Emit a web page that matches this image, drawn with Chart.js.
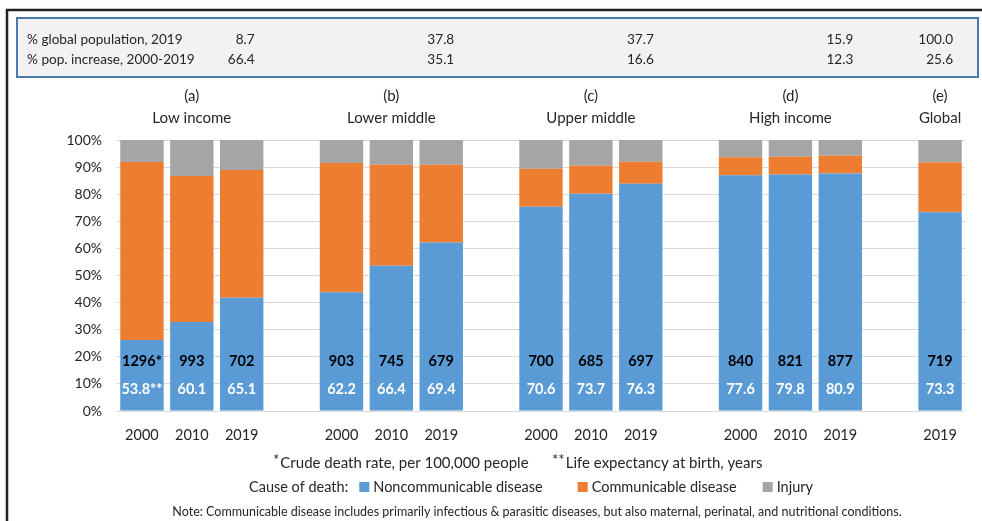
<!DOCTYPE html>
<html>
<head>
<meta charset="utf-8">
<script src="https://cdn.jsdelivr.net/npm/chart.js@4"></script>
<style>
  html, body { margin: 0; padding: 0; background: #fff; }
</style>
</head>
<body>
<canvas id="myChart" width="982" height="521"></canvas>
<script>
// Categorias: 5 grupos con una columna vacia entre ellos
const years = ['2000', '2010', '2019', '', '2000', '2010', '2019', '', '2000', '2010', '2019', '', '2000', '2010', '2019', '', '2019'];
const groupLetters = ['(a)', '(b)', '(c)', '(d)', '(e)'];
const groupNames = ['Low income', 'Lower middle', 'Upper middle', 'High income', 'Global'];
const groupMid = [1, 5, 9, 13, 16];
const groupLast = [2, 6, 10, 14, 16];

// Porcentaje de muertes por causa
const noncommunicable = [26.2, 32.8, 41.8, null, 43.8, 53.6, 62.2, null, 75.4, 80.2, 83.9, null, 87.0, 87.3, 87.6, null, 73.3];
const communicable = [65.7, 53.9, 47.1, null, 47.7, 37.3, 28.7, null, 14.0, 10.3, 8.1, null, 6.6, 6.5, 6.6, null, 18.5];
const injury = [8.1, 13.3, 11.1, null, 8.5, 9.1, 9.1, null, 10.6, 9.5, 8.0, null, 6.4, 6.2, 5.8, null, 8.2];

// Tasa bruta de mortalidad y esperanza de vida
const deathRate = [1296, 993, 702, null, 903, 745, 679, null, 700, 685, 697, null, 840, 821, 877, null, 719];
const lifeExpectancy = [53.8, 60.1, 65.1, null, 62.2, 66.4, 69.4, null, 70.6, 73.7, 76.3, null, 77.6, 79.8, 80.9, null, 73.3];

// Tabla superior
const popShare = [8.7, 37.8, 37.7, 15.9, 100.0];
const popIncrease = [66.4, 35.1, 16.6, 12.3, 25.6];

const yTicks = [0, 10, 20, 30, 40, 50, 60, 70, 80, 90, 100];

const FONT = 'Lato, "Open Sans", sans-serif';
const TEXT = '#262626';
const colors = ['#5B9BD5', '#ED7D31', '#A5A5A5'];
const seriesNames = ['Noncommunicable disease', 'Communicable disease', 'Injury'];

// Todo lo que no es barra: marco, tabla, titulos, etiquetas y notas
const extras = {
  id: 'extras',
  beforeDraw(chart) {
    const ctx = chart.ctx;
    const x = chart.scales.x;
    ctx.save();
    // marco exterior
    ctx.strokeStyle = '#222';
    ctx.lineWidth = 2.5;
    ctx.beginPath();
    ctx.moveTo(7, 521);
    ctx.lineTo(7, 10);
    ctx.lineTo(982, 10);
    ctx.stroke();

    // tabla de poblacion
    ctx.fillStyle = '#f2f2f2';
    ctx.fillRect(17, 18, 961, 59);
    ctx.strokeStyle = '#4a79ad';
    ctx.lineWidth = 2;
    ctx.strokeRect(17, 18, 961, 59);

    ctx.fillStyle = TEXT;
    ctx.font = '13.6px ' + FONT;
    ctx.textBaseline = 'middle';
    ctx.textAlign = 'left';
    ctx.fillText('% global population, 2019', 27, 40);
    ctx.fillText('% pop. increase, 2000-2019', 27, 60);
    ctx.textAlign = 'right';
    groupLast.forEach((idx, i) => {
      const px = x.getPixelForValue(idx) + 13;
      ctx.fillText(popShare[i].toFixed(1), px, 40);
      ctx.fillText(popIncrease[i].toFixed(1), px, 60);
    });

    // titulos de los grupos
    ctx.textAlign = 'center';
    ctx.font = '15px ' + FONT;
    groupMid.forEach((idx, i) => {
      const px = x.getPixelForValue(idx);
      ctx.fillText(groupLetters[i], px, 96);
      ctx.fillText(groupNames[i], px, 118);
    });
    ctx.restore();
  },
  afterDatasetsDraw(chart) {
    const ctx = chart.ctx;
    const x = chart.scales.x;
    const y = chart.scales.y;
    ctx.save();
    ctx.textAlign = 'center';
    ctx.textBaseline = 'middle';
    ctx.font = 'bold 14.5px ' + FONT;
    deathRate.forEach((v, i) => {
      if (v === null) return;
      const px = x.getPixelForValue(i);
      ctx.fillStyle = '#000';
      ctx.fillText(v + (i === 0 ? '*' : ''), px, y.getPixelForValue(18.5));
      ctx.fillStyle = '#fff';
      ctx.fillText(lifeExpectancy[i].toFixed(1) + (i === 0 ? '**' : ''), px, y.getPixelForValue(8.1));
    });
    ctx.restore();
  },
  afterDraw(chart) {
    const ctx = chart.ctx;
    ctx.save();
    ctx.fillStyle = TEXT;
    ctx.textBaseline = 'middle';
    ctx.textAlign = 'left';

    // notas con asterisco
    const star = (s, px, py) => {
      ctx.font = '15px ' + FONT;
      ctx.fillText(s, px, py - 3);
      return px + ctx.measureText(s).width;
    };
    let px = star('*', 273, 463);
    ctx.fillText('Crude death rate, per 100,000 people', px + 1, 463);
    px = star('**', 552, 463);
    ctx.fillText('Life expectancy at birth, years', px + 1, 463);

    // leyenda
    ctx.font = '14.5px ' + FONT;
    ctx.fillText('Cause of death:', 249, 487);
    px = 249 + ctx.measureText('Cause of death:').width + 11;
    const gaps = [35, 26, 0];
    seriesNames.forEach((name, i) => {
      ctx.fillStyle = colors[i];
      ctx.fillRect(px, 482, 10, 10);
      ctx.fillStyle = TEXT;
      ctx.fillText(name, px + 14, 487);
      px += 14 + ctx.measureText(name).width + gaps[i];
    });

    ctx.font = '12.5px ' + FONT;
    ctx.textAlign = 'center';
    ctx.fillText('Note: Communicable disease includes primarily infectious & parasitic diseases, but also maternal, perinatal, and nutritional conditions.', 537, 512);
    ctx.restore();
  }
};

const ctx = document.getElementById('myChart');
new Chart(ctx, {
  type: 'bar',
  data: {
    labels: years,
    datasets: [
      { label: seriesNames[0], data: noncommunicable, backgroundColor: colors[0] },
      { label: seriesNames[1], data: communicable, backgroundColor: colors[1] },
      { label: seriesNames[2], data: injury, backgroundColor: colors[2] }
    ]
  },
  options: {
    responsive: false,
    animation: false,
    layout: { padding: { left: 0, right: 17, top: 140, bottom: 70 } },
    datasets: { bar: { barPercentage: 0.87, categoryPercentage: 1 } },
    plugins: { legend: { display: false }, tooltip: { enabled: false } },
    scales: {
      x: {
        stacked: true,
        grid: { display: false },
        border: { display: false },
        ticks: { color: TEXT, font: { family: FONT, size: 14.5 }, padding: 8, maxRotation: 0, autoSkip: false },
        afterFit: (scale) => { scale.height = 40; }
      },
      y: {
        stacked: true,
        min: 0,
        max: 100,
        afterBuildTicks: (scale) => { scale.ticks = yTicks.map(v => ({ value: v })); },
        ticks: { color: TEXT, font: { family: FONT, size: 14 }, padding: 15, callback: v => v + '%' },
        grid: { color: '#d9d9d9', drawTicks: false },
        border: { display: false },
        afterFit: (scale) => { scale.width = 117; }
      }
    }
  },
  plugins: [extras]
});
</script>
</body>
</html>
